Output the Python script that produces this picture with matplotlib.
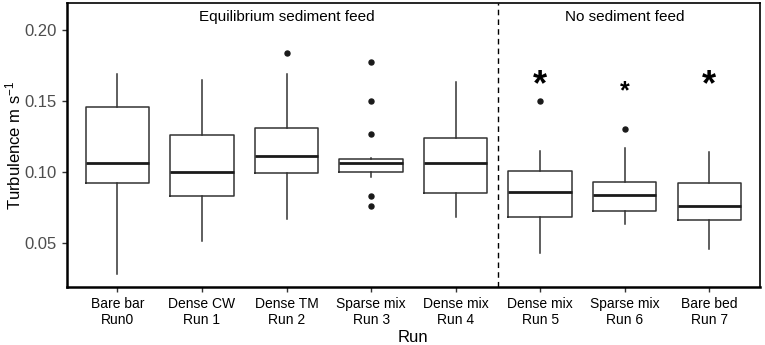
import numpy as np
import matplotlib.pyplot as plt

plt.rcParams["font.family"] = ["Liberation Sans", "DejaVu Sans"]
plt.rcParams["mathtext.fontset"] = "custom"
plt.rcParams["mathtext.rm"] = "Liberation Sans"
plt.rcParams["mathtext.it"] = "Liberation Sans:italic"

# Box statistics (turbulence, m/s)
labels = ["Bare bar\nRun0", "Dense CW\nRun 1", "Dense TM\nRun 2", "Sparse mix\nRun 3",
          "Dense mix\nRun 4", "Dense mix\nRun 5", "Sparse mix\nRun 6", "Bare bed\nRun 7"]
whislo = [0.0278, 0.0513, 0.0666, 0.0962, 0.0680, 0.0424, 0.0629, 0.0454]
q1 = [0.0918, 0.0828, 0.0989, 0.0996, 0.0852, 0.0682, 0.0725, 0.0659]
med = [0.1064, 0.1000, 0.1111, 0.1059, 0.1059, 0.0855, 0.0833, 0.0760]
q3 = [0.1455, 0.1259, 0.1306, 0.1092, 0.1240, 0.1003, 0.0929, 0.0918]
whishi = [0.1690, 0.1648, 0.1690, 0.1095, 0.1633, 0.1148, 0.1165, 0.1141]
outliers = [[], [], [0.1836], [0.1773, 0.1501, 0.1266, 0.0831, 0.0756],
            [], [0.1501], [0.1304], []]

# significance markers for runs 5-7
star_runs = [6, 7, 8]
star_y = [0.1610, 0.1570, 0.1610]
star_size = [26, 18, 26]

stats = []
for i in range(len(labels)):
    stats.append(dict(med=med[i], q1=q1[i], q3=q3[i], whislo=whislo[i],
                      whishi=whishi[i], fliers=outliers[i]))

fig = plt.figure(figsize=(7.65, 3.45), dpi=100)
ax = fig.add_axes([66.7 / 765, 1 - 287 / 345, (760 - 66.7) / 765, (287 - 3) / 345])

positions = np.arange(1, len(labels) + 1)
line_c = "#333333"
ax.bxp(stats, positions=positions, widths=0.75, showcaps=False,
       boxprops=dict(color=line_c, linewidth=1.1),
       whiskerprops=dict(color=line_c, linewidth=1.1),
       medianprops=dict(color="#1a1a1a", linewidth=2.0),
       flierprops=dict(marker="o", markersize=3.6, markerfacecolor="#1a1a1a",
                       markeredgecolor="#1a1a1a"))

for x, y, s in zip(star_runs, star_y, star_size):
    ax.text(x, y, "*", fontsize=s, fontweight="bold", ha="center", va="center")

# split between the two experiment groups
ax.axvline(5.5, color="black", linestyle=(0, (4, 3)), linewidth=1.0)
ax.text(3, 0.2095, "Equilibrium sediment feed", fontsize=11, ha="center", va="center")
ax.text(7, 0.2095, "No sediment feed", fontsize=11, ha="center", va="center")

ax.set_xlim(0.4, 8.6)
ax.set_ylim(0.0186, 0.2191)
ax.set_xticks(positions)
ax.set_xticklabels(labels, fontsize=10, color="black")
ax.set_yticks([0.05, 0.10, 0.15, 0.20])
ax.set_yticklabels(["0.05", "0.10", "0.15", "0.20"], fontsize=12, color="#4D4D4D")
ax.tick_params(direction="out", length=3.5, width=1, color="#333333")
ax.set_xlabel("Run", fontsize=12, labelpad=2)
ax.set_ylabel("Turbulence m s$^{-1}$", fontsize=12, labelpad=1)

for side, sp in ax.spines.items():
    sp.set_color("black")
    sp.set_linewidth(1.2)
ax.spines["left"].set_linewidth(1.8)
ax.spines["bottom"].set_linewidth(1.8)

fig.savefig("out.png", dpi=100)
